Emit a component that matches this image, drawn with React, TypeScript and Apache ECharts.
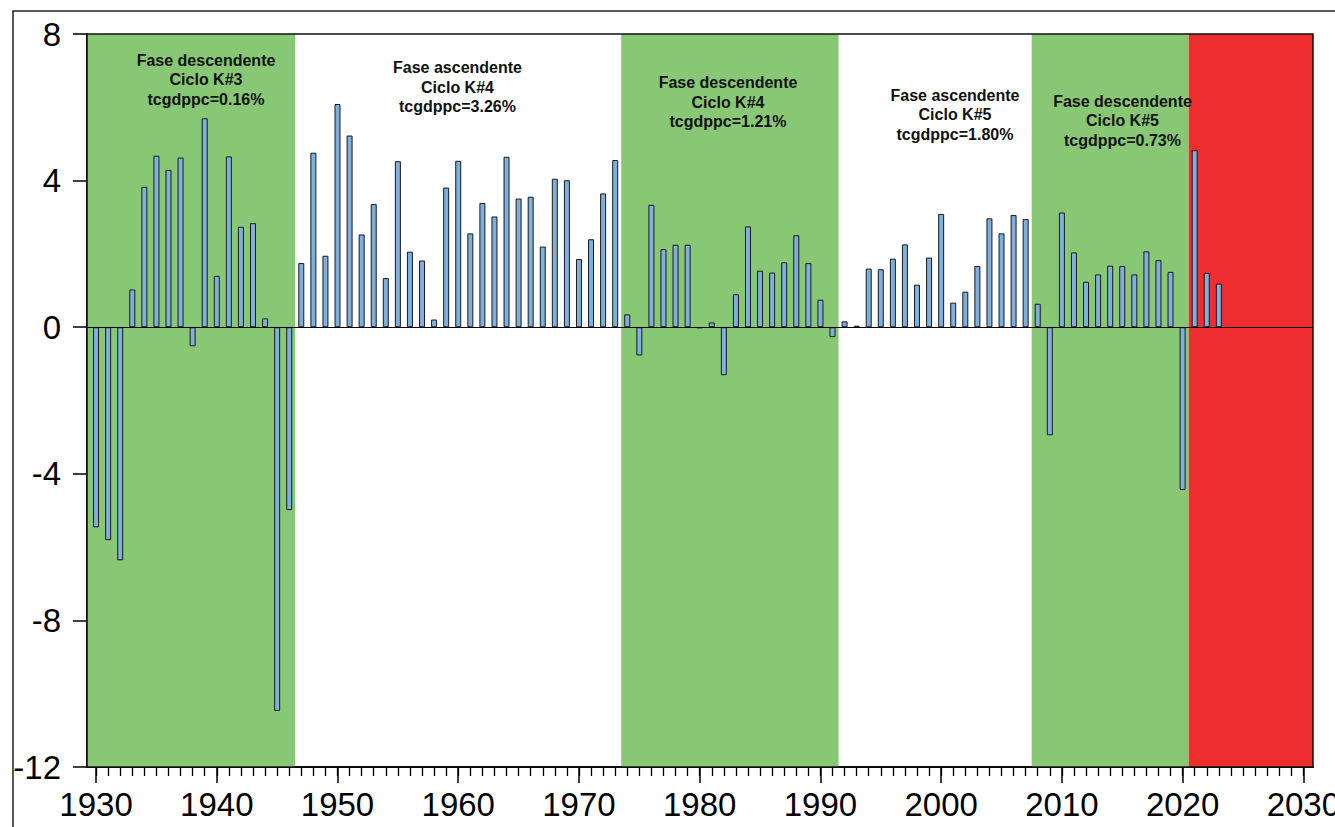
import React, { useEffect, useRef } from "react";
import * as echarts from "echarts";

const YEARS = [
  1930, 1931, 1932, 1933, 1934, 1935, 1936, 1937, 1938, 1939,
  1940, 1941, 1942, 1943, 1944, 1945, 1946, 1947, 1948, 1949,
  1950, 1951, 1952, 1953, 1954, 1955, 1956, 1957, 1958, 1959,
  1960, 1961, 1962, 1963, 1964, 1965, 1966, 1967, 1968, 1969,
  1970, 1971, 1972, 1973, 1974, 1975, 1976, 1977, 1978, 1979,
  1980, 1981, 1982, 1983, 1984, 1985, 1986, 1987, 1988, 1989,
  1990, 1991, 1992, 1993, 1994, 1995, 1996, 1997, 1998, 1999,
  2000, 2001, 2002, 2003, 2004, 2005, 2006, 2007, 2008, 2009,
  2010, 2011, 2012, 2013, 2014, 2015, 2016, 2017, 2018, 2019,
  2020, 2021, 2022, 2023,
];

const TCGDPPC = [
  -5.46, -5.81, -6.36, 1.03, 3.83, 4.68, 4.29, 4.63, -0.52, 5.7,
  1.4, 4.66, 2.74, 2.84, 0.24, -10.47, -4.99, 1.75, 4.76, 1.95,
  6.09, 5.23, 2.53, 3.36, 1.34, 4.53, 2.06, 1.82, 0.21, 3.81,
  4.54, 2.56, 3.39, 3.02, 4.65, 3.51, 3.56, 2.2, 4.05, 4.01,
  1.86, 2.4, 3.65, 4.56, 0.35, -0.77, 3.34, 2.13, 2.25, 2.25,
  -0.03, 0.13, -1.31, 0.9, 2.75, 1.54, 1.49, 1.77, 2.51, 1.75,
  0.75, -0.27, 0.16, 0.04, 1.6, 1.58, 1.87, 2.26, 1.16, 1.9,
  3.09, 0.67, 0.97, 1.67, 2.97, 2.56, 3.06, 2.95, 0.64, -2.95,
  3.13, 2.04, 1.24, 1.44, 1.68, 1.67, 1.44, 2.07, 1.83, 1.51,
  -4.44, 4.83, 1.48, 1.19,
];

const X_MIN = 1929.25;
const X_MAX = 2030.8;

const DECADE_TICKS = [1930, 1940, 1950, 1960, 1970, 1980, 1990, 2000, 2010, 2020, 2030];
const YEAR_TICKS = [
  1930, 1931, 1932, 1933, 1934, 1935, 1936, 1937, 1938, 1939,
  1940, 1941, 1942, 1943, 1944, 1945, 1946, 1947, 1948, 1949,
  1950, 1951, 1952, 1953, 1954, 1955, 1956, 1957, 1958, 1959,
  1960, 1961, 1962, 1963, 1964, 1965, 1966, 1967, 1968, 1969,
  1970, 1971, 1972, 1973, 1974, 1975, 1976, 1977, 1978, 1979,
  1980, 1981, 1982, 1983, 1984, 1985, 1986, 1987, 1988, 1989,
  1990, 1991, 1992, 1993, 1994, 1995, 1996, 1997, 1998, 1999,
  2000, 2001, 2002, 2003, 2004, 2005, 2006, 2007, 2008, 2009,
  2010, 2011, 2012, 2013, 2014, 2015, 2016, 2017, 2018, 2019,
  2020, 2021, 2022, 2023, 2024, 2025, 2026, 2027, 2028, 2029, 2030,
];

const PHASE_START = [X_MIN, 1973.5, 2007.5, 2020.5];
const PHASE_END = [1946.5, 1991.5, 2020.5, X_MAX];
const PHASE_KIND = ["down", "down", "down", "now"];

const ANNOTATIONS = [
  "Fase descendente\nCiclo K#3\ntcgdppc=0.16%",
  "Fase ascendente\nCiclo K#4\ntcgdppc=3.26%",
  "Fase descendente\nCiclo K#4\ntcgdppc=1.21%",
  "Fase ascendente\nCiclo K#5\ntcgdppc=1.80%",
  "Fase descendente\nCiclo K#5\ntcgdppc=0.73%",
];

const GREEN = "#88C874";
const RED = "#EE2E2E";
const BAR = "#7FAFDD";

export default function App() {
  const ref = useRef<HTMLDivElement>(null);

  useEffect(() => {
    if (!ref.current) return;
    const chart = echarts.init(ref.current, undefined, { renderer: "svg" });

    const annPos = [
      [206, 79.5],
      [457.5, 87],
      [728, 102],
      [955, 114.5],
      [1122.5, 120.5],
    ];

    const option: any = {
      animation: false,
      backgroundColor: "#ffffff",
      grid: {
        left: 87,
        right: 22,
        top: 34,
        bottom: 60,
        containLabel: false,
        outerBoundsMode: "none",
      },
      xAxis: [
        {
          type: "value",
          min: X_MIN,
          max: X_MAX,
          position: "bottom",
          axisLine: { show: true, onZero: false, lineStyle: { color: "#000", width: 2 } },
          axisTick: {
            show: true,
            customValues: DECADE_TICKS,
            length: 16,
            lineStyle: { color: "#000", width: 1.5 },
          },
          axisLabel: {
            show: true,
            customValues: DECADE_TICKS,
            fontSize: 33,
            fontFamily: "Arial, 'Liberation Sans', sans-serif",
            color: "#000",
            margin: 21,
            formatter: (v: number) => String(Math.round(v)),
          },
          splitLine: { show: false },
        },
        {
          type: "value",
          min: X_MIN,
          max: X_MAX,
          position: "bottom",
          axisLine: { show: false, onZero: false },
          axisTick: {
            show: true,
            customValues: YEAR_TICKS,
            length: 9,
            lineStyle: { color: "#000", width: 1.3 },
          },
          axisLabel: { show: false },
          splitLine: { show: false },
        },
      ],
      yAxis: {
        type: "value",
        min: -12,
        max: 8,
        interval: 4,
        axisLine: { show: true, onZero: false, lineStyle: { color: "#000", width: 2 } },
        axisTick: { show: true, length: 14, lineStyle: { color: "#000", width: 1.5 } },
        axisLabel: {
          fontSize: 33,
          fontFamily: "Arial, 'Liberation Sans', sans-serif",
          color: "#000",
          margin: 26,
          padding: [0, 0, 5, 0],
        },
        splitLine: { show: false },
      },
      series: [
        {
          type: "line",
          data: [],
          z: 1,
          silent: true,
          markArea: {
            silent: true,
            label: { show: false },
            data: PHASE_START.map((s, i) => [
              {
                xAxis: s,
                itemStyle: { color: PHASE_KIND[i] === "now" ? RED : GREEN, opacity: 1, borderWidth: 0 },
              },
              { xAxis: PHASE_END[i] },
            ]),
          },
        },
        {
          type: "bar",
          xAxisIndex: 0,
          z: 3,
          barWidth: 6,
          data: YEARS.map((y, i) => [y, TCGDPPC[i]]),
          itemStyle: { color: BAR, borderColor: "#1a1a1a", borderWidth: 1 },
          markLine: {
            silent: true,
            symbol: ["none", "none"],
            label: { show: false },
            lineStyle: { color: "#000", width: 1, type: "solid" },
            data: [{ yAxis: 0 }],
          },
        },
      ],
      graphic: [
        {
          type: "rect",
          z: 100,
          shape: { x: 87, y: 34, width: 1226, height: 733 },
          style: { fill: "none", stroke: "#111", lineWidth: 1.5 },
          silent: true,
        },
        {
          type: "polyline",
          z: 100,
          shape: { points: [[13, 827], [13, 11], [1335, 11]] },
          style: { fill: "none", stroke: "#222", lineWidth: 1.5 },
          silent: true,
        },
        ...ANNOTATIONS.map((t, i) => ({
          type: "text",
          z: 100,
          x: annPos[i][0],
          y: annPos[i][1],
          style: {
            text: t,
            align: "center",
            verticalAlign: "middle",
            fontSize: 16,
            fontWeight: "bold",
            fontFamily: "Arial, 'Liberation Sans', sans-serif",
            lineHeight: 19.5,
            fill: "#111",
          },
          silent: true,
        })),
      ],
    };

    chart.setOption(option);
    return () => chart.dispose();
  }, []);

  return (
    <div
      ref={ref}
      style={{ position: "fixed", left: 0, top: 0, width: 1335, height: 827 }}
    />
  );
}
